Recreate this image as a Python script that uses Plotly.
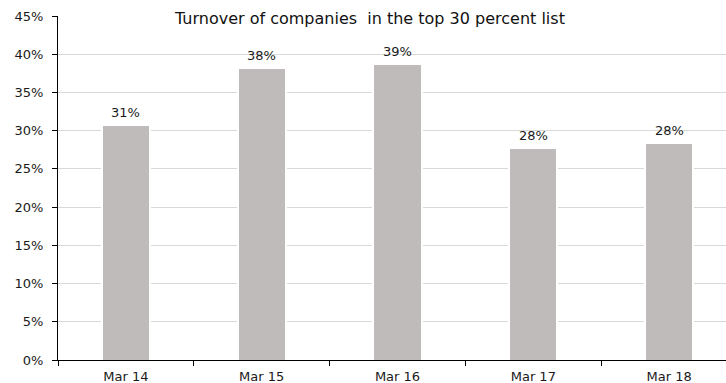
import plotly.graph_objects as go

# Share of companies in the top 30 percent list that changed, per year
periods = ["Mar 14", "Mar 15", "Mar 16", "Mar 17", "Mar 18"]
turnover_pct = [30.6, 38.1, 38.6, 27.6, 28.2]
y_ticks = [0, 5, 10, 15, 20, 25, 30, 35, 40, 45]
title_text = "Turnover of companies\u00a0 in the top 30 percent list"

FONT = "DejaVu Sans"
BAR_COLOR = "#bfbbba"
GRID_COLOR = "#d9d9d9"

fig = go.Figure()
# White halo behind each bar, so the gridlines stop short of the bars
fig.add_trace(go.Bar(
    x=periods, y=turnover_pct, width=0.37,
    marker=dict(color="white", line=dict(width=0)),
    hoverinfo="skip",
))
fig.add_trace(go.Bar(
    x=periods, y=turnover_pct, width=0.34,
    marker=dict(color=BAR_COLOR, line=dict(width=0)),
    hoverinfo="skip",
))

# Value labels above each bar
for p, v in zip(periods, turnover_pct):
    fig.add_annotation(
        x=p, y=v, xref="x", yref="y",
        text=f"{round(v):d}%",
        showarrow=False, yanchor="bottom", yshift=4,
        font=dict(family=FONT, size=13, color="#1a1a1a"),
    )

fig.add_annotation(
    x=0.4656, y=0.994, xref="paper", yref="paper",
    text=title_text, showarrow=False,
    xanchor="center", yanchor="middle",
    bgcolor="white",
    font=dict(family=FONT, size=16, color="#111111"),
)

fig.update_layout(
    width=726, height=383,
    margin=dict(l=58, r=0, t=16, b=23),
    paper_bgcolor="white",
    plot_bgcolor="white",
    showlegend=False,
    barmode="overlay",
    bargap=0,
)

fig.update_xaxes(
    type="category",
    range=[-0.5, 4.419],
    showline=True, linecolor="black", linewidth=1,
    ticks="outside", tickson="boundaries", ticklen=5, tickcolor="black",
    ticklabelstandoff=4,
    showgrid=False,
    tickfont=dict(family=FONT, size=13, color="#1a1a1a"),
)

fig.update_yaxes(
    range=[0, 45],
    tickvals=y_ticks,
    ticktext=[f"{t}%" for t in y_ticks],
    showline=True, linecolor="black", linewidth=1,
    ticks="outside", ticklen=5, tickcolor="black",
    ticklabelstandoff=6,
    showgrid=True, gridcolor=GRID_COLOR, gridwidth=1,
    zeroline=False,
    tickfont=dict(family=FONT, size=13, color="#1a1a1a"),
)

fig.write_html("out.html")
